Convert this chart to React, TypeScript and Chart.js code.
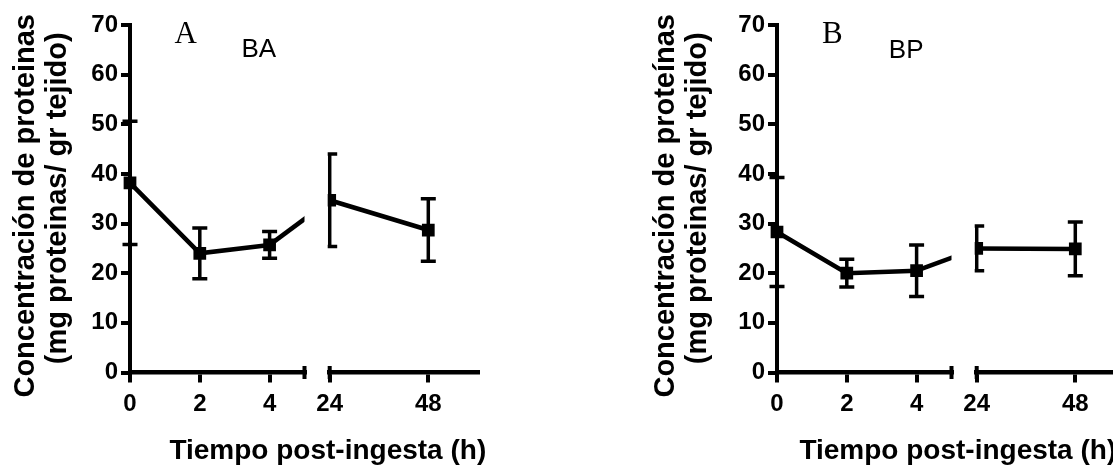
import React, { useEffect, useRef } from 'react';
import { Chart, registerables } from 'chart.js';

Chart.register(...registerables);

// ---------- data ----------
const TIMES_EARLY = [0, 2, 4];
const TIMES_LATE = [24, 48];
const X_TICKS_EARLY = [0, 2, 4];
const X_TICKS_LATE = [24, 48];
const Y_TICKS = [0, 10, 20, 30, 40, 50, 60, 70];

const BA_MEAN_EARLY = [38.2, 24.0, 25.7];
const BA_ERR_EARLY = [12.4, 5.1, 2.7];
const BA_MEAN_LATE = [34.7, 28.7];
const BA_ERR_LATE = [9.3, 6.3];

const BP_MEAN_EARLY = [28.3, 20.0, 20.5];
const BP_ERR_EARLY = [11.0, 2.8, 5.2];
const BP_MEAN_LATE = [25.0, 24.9];
const BP_ERR_LATE = [4.5, 5.4];

const X_TITLE = 'Tiempo post-ingesta (h)';
const Y_TITLE_A = ['Concentración de proteinas', '(mg proteinas/ gr tejido)'];
const Y_TITLE_B = ['Concentración de proteínas', '(mg proteinas/ gr tejido)'];

// ---------- layout / style ----------
const W = 600;
const H = 466;
const PLOT_TOP = 25;
const PLOT_LEFT = 130;
const PLOT_BOTTOM = 372.5;
const PLOT_RIGHT = 477.6;
const SEG1_W = 174.5;
const GAP_W = 25.2;
const SEG2_W = 147.9;

const SANS = "'Liberation Sans', Arial, sans-serif";
const SERIF = "'Liberation Serif', 'Times New Roman', serif";
const LINE_W = 4.5;
const ERR_W = 3.5;
const CAP_HALF = 7.5;

type Panel = {
  letter: string;
  group: string;
  meanEarly: number[];
  errEarly: number[];
  meanLate: number[];
  errLate: number[];
  yTitle: string[];
  left: number;
  yTitleX: [number, number];
  letterPos: [number, number];
  groupPos: [number, number];
  xTitleX: number;
};

const PANELS: Panel[] = [
  {
    letter: 'A', group: 'BA',
    meanEarly: BA_MEAN_EARLY, errEarly: BA_ERR_EARLY, meanLate: BA_MEAN_LATE, errLate: BA_ERR_LATE,
    yTitle: Y_TITLE_A, left: 0,
    yTitleX: [33.5, 65.6], letterPos: [174.5, 43.3], groupPos: [241.4, 56.7], xTitleX: 169.4,
  },
  {
    letter: 'B', group: 'BP',
    meanEarly: BP_MEAN_EARLY, errEarly: BP_ERR_EARLY, meanLate: BP_MEAN_LATE, errLate: BP_ERR_LATE,
    yTitle: Y_TITLE_B, left: 647,
    yTitleX: [26.8, 58.9], letterPos: [175, 42.7], groupPos: [241.8, 58.3], xTitleX: 152.4,
  },
];

function drawErrorBars(ctx: CanvasRenderingContext2D, xs: any, ys: any, times: number[], means: number[], errs: number[]) {
  ctx.lineWidth = ERR_W;
  ctx.strokeStyle = '#000';
  ctx.lineCap = 'butt';
  times.forEach((t, i) => {
    const px = xs.getPixelForValue(t);
    const pHi = ys.getPixelForValue(means[i] + errs[i]);
    const pLo = ys.getPixelForValue(means[i] - errs[i]);
    ctx.beginPath();
    ctx.moveTo(px, pHi);
    ctx.lineTo(px, pLo);
    ctx.moveTo(px - CAP_HALF, pHi);
    ctx.lineTo(px + CAP_HALF, pHi);
    ctx.moveTo(px - CAP_HALF, pLo);
    ctx.lineTo(px + CAP_HALF, pLo);
    ctx.stroke();
  });
}

function makePlugin(p: Panel) {
  return {
    id: 'decor',
    beforeDatasetsDraw(chart: any) {
      const { ctx, scales } = chart;
      const x1 = scales.x1, x2 = scales.x2, y = scales.y;
      ctx.save();
      // line crossing the axis break (hidden in the gap)
      ctx.save();
      ctx.beginPath();
      ctx.rect(0, 0, x1.right, chart.height);
      ctx.clip();
      ctx.lineWidth = LINE_W;
      ctx.strokeStyle = '#000';
      ctx.beginPath();
      const li = TIMES_EARLY.length - 1;
      ctx.moveTo(x1.getPixelForValue(TIMES_EARLY[li]), y.getPixelForValue(p.meanEarly[li]));
      ctx.lineTo(x2.getPixelForValue(TIMES_LATE[0]), y.getPixelForValue(p.meanLate[0]));
      ctx.stroke();
      ctx.restore();
      // error bars
      drawErrorBars(ctx, x1, y, TIMES_EARLY, p.meanEarly, p.errEarly);
      ctx.save();
      ctx.beginPath();
      ctx.rect(x2.left - 2, 0, chart.width, chart.height);
      ctx.clip();
      drawErrorBars(ctx, x2, y, TIMES_LATE, p.meanLate, p.errLate);
      ctx.restore();
      ctx.restore();
    },
    beforeDatasetDraw(chart: any, args: any) {
      const { ctx, scales } = chart;
      ctx.save();
      ctx.beginPath();
      if (args.index === 0) ctx.rect(0, 0, scales.x1.right, chart.height);
      else ctx.rect(scales.x2.left - 2, 0, chart.width, chart.height);
      ctx.clip();
    },
    afterDatasetDraw(chart: any) {
      chart.ctx.restore();
    },
    afterDraw(chart: any) {
      const { ctx, scales, chartArea } = chart;
      const x1 = scales.x1, x2 = scales.x2;
      ctx.save();
      // break caps
      ctx.strokeStyle = '#000';
      ctx.lineWidth = 4;
      ctx.beginPath();
      ctx.moveTo(x1.right, chartArea.bottom - 6.5);
      ctx.lineTo(x1.right, chartArea.bottom + 6.5);
      ctx.moveTo(x2.left, chartArea.bottom - 6.5);
      ctx.lineTo(x2.left, chartArea.bottom + 6.5);
      ctx.stroke();

      ctx.fillStyle = '#000';
      // panel letter
      ctx.textAlign = 'left';
      ctx.textBaseline = 'alphabetic';
      ctx.font = `31px ${SERIF}`;
      ctx.fillText(p.letter, p.letterPos[0], p.letterPos[1]);
      ctx.font = `26px ${SANS}`;
      ctx.fillText(p.group, p.groupPos[0], p.groupPos[1]);
      // x title
      ctx.font = `bold 28px ${SANS}`;
      ctx.fillText(X_TITLE, p.xTitleX, 459.3);
      // y title
      ctx.font = `bold 29px ${SANS}`;
      ctx.textAlign = 'center';
      const centers = [205.8, 198.3];
      p.yTitle.forEach((t, i) => {
        ctx.save();
        ctx.translate(p.yTitleX[i], centers[i]);
        ctx.rotate(-Math.PI / 2);
        ctx.fillText(t, 0, 0);
        ctx.restore();
      });
      ctx.restore();
    },
  };
}

const tickFont = { family: SANS, weight: 'bold' as const, size: 24 };

function xAxis(min: number, max: number, weight: number, ticks: number[]) {
  return {
    type: 'linear' as const,
    position: 'bottom' as const,
    stack: 'xs',
    stackWeight: weight,
    min,
    max,
    afterBuildTicks: (s: any) => { s.ticks = ticks.map((v) => ({ value: v })); },
    afterFit: (s: any) => { s.height = H - PLOT_BOTTOM; },
    grid: { display: true, drawOnChartArea: false, drawTicks: true, tickLength: 10, lineWidth: 4, color: '#000' },
    border: { display: true, width: 4.5, color: '#000' },
    ticks: { font: tickFont, color: '#000', padding: 7, autoSkip: false, maxRotation: 0 },
  };
}

function makeConfig(p: Panel): any {
  return {
    type: 'line',
    data: {
      datasets: [
        {
          data: TIMES_EARLY.map((t, i) => ({ x: t, y: p.meanEarly[i] })),
          xAxisID: 'x1', yAxisID: 'y',
        },
        {
          data: TIMES_LATE.map((t, i) => ({ x: t, y: p.meanLate[i] })),
          xAxisID: 'x2', yAxisID: 'y',
        },
      ].map((d) => ({
        ...d,
        borderColor: '#000',
        borderWidth: LINE_W,
        backgroundColor: '#000',
        pointStyle: 'rect',
        pointRadius: 9,
        pointBorderWidth: 0,
        pointBackgroundColor: '#000',
        tension: 0,
        fill: false,
        clip: false,
      })),
    },
    options: {
      responsive: false,
      maintainAspectRatio: false,
      animation: false,
      devicePixelRatio: 1,
      events: [],
      layout: { padding: { top: PLOT_TOP, left: 0, right: W - PLOT_RIGHT, bottom: 0 } },
      plugins: { legend: { display: false }, tooltip: { enabled: false }, title: { display: false } },
      scales: {
        y: {
          type: 'linear',
          position: 'left',
          min: 0,
          max: 70,
          afterBuildTicks: (s: any) => { s.ticks = Y_TICKS.map((v) => ({ value: v })); },
          afterFit: (s: any) => { s.width = PLOT_LEFT; },
          grid: { display: true, drawOnChartArea: false, drawTicks: true, tickLength: 9, lineWidth: 4, color: '#000' },
          border: { display: true, width: 4, color: '#000' },
          ticks: { font: tickFont, color: '#000', padding: 3 },
        },
        x1: xAxis(0, 5, SEG1_W, X_TICKS_EARLY),
        xgap: {
          type: 'linear',
          position: 'bottom',
          stack: 'xs',
          stackWeight: GAP_W,
          min: 0,
          max: 1,
          afterFit: (s: any) => { s.height = H - PLOT_BOTTOM; },
          grid: { display: false },
          border: { display: false },
          ticks: { display: false },
        },
        x2: xAxis(24, 60, SEG2_W, X_TICKS_LATE),
      },
    },
    plugins: [makePlugin(p)],
  };
}

function PanelChart({ panel }: { panel: Panel }) {
  const ref = useRef<HTMLCanvasElement>(null);
  useEffect(() => {
    if (!ref.current) return;
    const chart = new Chart(ref.current, makeConfig(panel));
    return () => chart.destroy();
  }, [panel]);
  return (
    <canvas
      ref={ref}
      width={W}
      height={H}
      style={{ position: 'absolute', left: panel.left, top: 0, width: W, height: H }}
    />
  );
}

export default function App() {
  return (
    <div
      style={{
        position: 'fixed', left: 0, top: 0, width: 1113, height: 466,
        overflow: 'hidden', background: '#fff',
      }}
    >
      {PANELS.map((p) => (
        <PanelChart key={p.letter} panel={p} />
      ))}
    </div>
  );
}
